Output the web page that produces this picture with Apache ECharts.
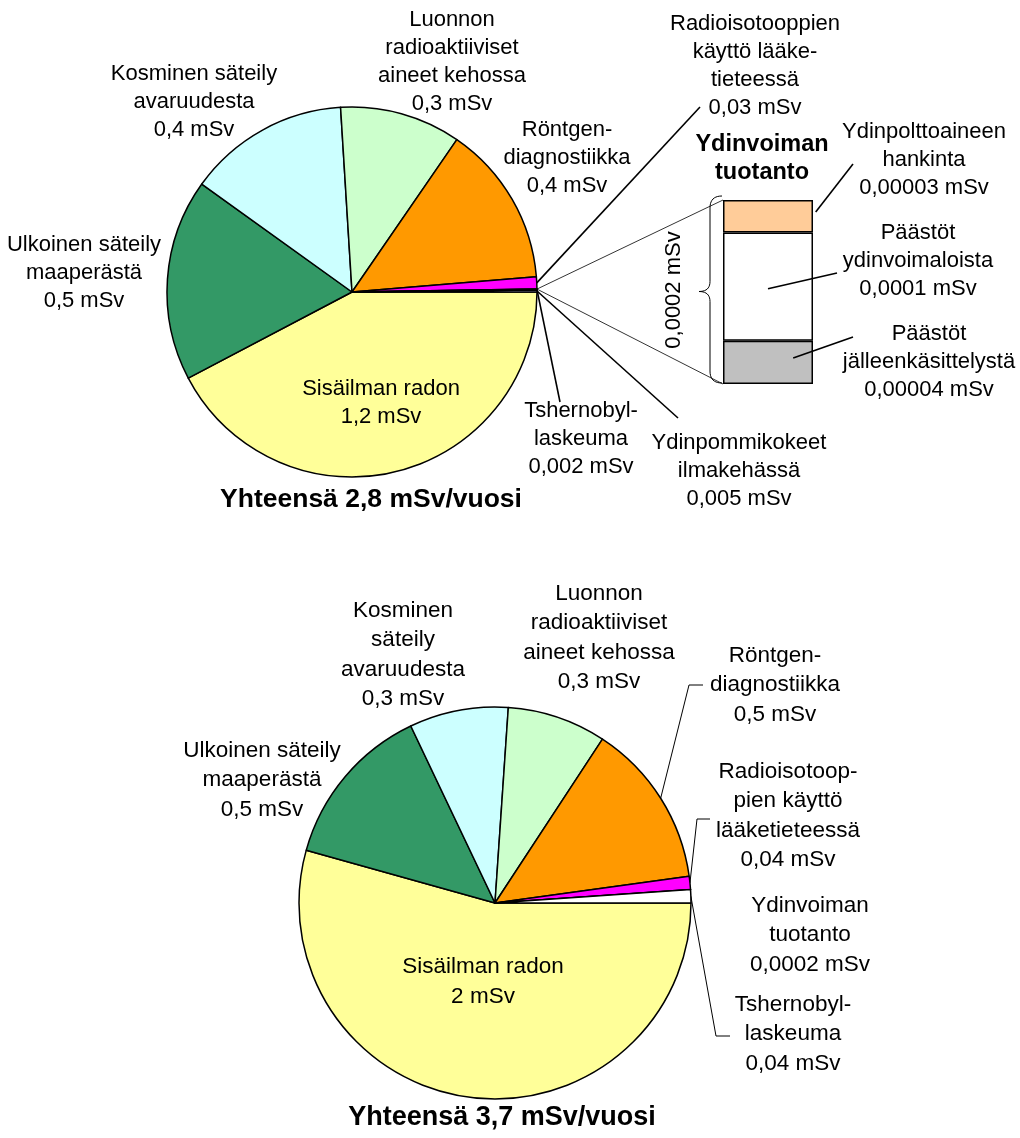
<!DOCTYPE html>
<html>
<head>
<meta charset="utf-8">
<script src="https://cdn.jsdelivr.net/npm/echarts@6/dist/echarts.min.js"></script>
<style>
  html, body { margin: 0; padding: 0; background: #ffffff; }
  #chart { width: 1020px; height: 1138px; }
</style>
</head>
<body>
<div id="chart"></div>
<script>
// Säteilyannoksen lähteet (mSv / vuosi), vanhempi arvio
const topNames = [
  'Sisäilman radon',
  'Ulkoinen säteily\nmaaperästä',
  'Kosminen säteily\navaruudesta',
  'Luonnon\nradioaktiiviset\naineet kehossa',
  'Röntgen-\ndiagnostiikka',
  'Radioisotooppien\nkäyttö lääke-\ntieteessä',
  'Ydinvoiman\ntuotanto',
  'Tshernobyl-\nlaskeuma',
  'Ydinpommikokeet\nilmakehässä'
];
const topValues = [1.2, 0.5, 0.4, 0.3, 0.4, 0.03, 0.0002, 0.002, 0.005];

// Säteilyannoksen lähteet (mSv / vuosi), uudempi arvio
const bottomNames = [
  'Sisäilman radon',
  'Ulkoinen säteily\nmaaperästä',
  'Kosminen\nsäteily\navaruudesta',
  'Luonnon\nradioaktiiviset\naineet kehossa',
  'Röntgen-\ndiagnostiikka',
  'Radioisotoop-\npien käyttö\nlääketieteessä',
  'Ydinvoiman\ntuotanto',
  'Tshernobyl-\nlaskeuma'
];
const bottomValues = [2, 0.5, 0.3, 0.3, 0.5, 0.04, 0.0002, 0.04];

// Ydinvoiman tuotannon osuus eriteltynä (alhaalta ylös)
const fuelNames = ['Päästöt\njälleenkäsittelystä', 'Päästöt\nydinvoimaloista', 'Ydinpolttoaineen\nhankinta'];
const fuelValues = [0.00004, 0.0001, 0.00003];
const fuelCategory = ['Ydinvoima'];

const NUCLEAR = 6; // Ydinvoiman tuotanto -sektorin indeksi

const sliceColors = ['#FFFF99', '#339966', '#CCFFFF', '#CCFFCC', '#FF9900', '#FF00FF', '#FFFFFF', '#FFFFFF', '#CCCCFF'];
const fuelColors = ['#C0C0C0', '#FFFFFF', '#FFCC99'];

const FONT = "'Liberation Sans', Arial, sans-serif";
const fmt = v => String(v).replace('.', ',');
const sum = arr => arr.reduce((a, b) => a + b, 0);

// Tekstien paikat ja ohjainviivojen päätepisteet
const topLayout = [
  { x: 381, y: 403 },
  { x: 84, y: 273 },
  { x: 194, y: 102 },
  { x: 452, y: 62 },
  { x: 567, y: 158 },
  { x: 755, y: 66, line: [[700, 107]] },
  { x: 762, y: 159 },
  { x: 581, y: 439, line: [[560, 402]] },
  { x: 739, y: 471, line: [[678, 418]] }
];
const bottomLayout = [
  { x: 483, y: 982 },
  { x: 262, y: 780 },
  { x: 403, y: 655 },
  { x: 599, y: 638 },
  { x: 775, y: 685, line: [[689, 685], [703, 685]] },
  { x: 788, y: 816, line: [[697, 819], [710, 819]] },
  { x: 810, y: 935 },
  { x: 793, y: 1034, line: [[716, 1036], [730, 1036]] }
];
// from: viivan alkukohta segmentin sisällä (osuus leveydestä, osuus korkeudesta)
const fuelLayout = [
  { x: 929, y: 362, from: [0.78, 0.4], to: [853, 337] },
  { x: 918, y: 261, from: [0.5, 0.52], to: [837, 273] },
  { x: 924, y: 160, from: [1.03, 0.37], to: [853, 164] }
];
const BAR = { left: 723, top: 200, width: 90, height: 184 };

function pieSeries(names, values, layout, center, radius, fontSize, lineHeight, lineWidth, extraLine) {
  return {
    type: 'pie',
    center: center,
    radius: radius,
    startAngle: 0,
    clockwise: true,
    avoidLabelOverlap: false,
    animation: false,
    silent: true,
    itemStyle: { borderColor: '#000', borderWidth: 1.5 },
    label: {
      show: true,
      position: 'outside',
      color: '#000',
      fontFamily: FONT,
      fontSize: fontSize,
      lineHeight: lineHeight,
      align: 'center',
      formatter: p => p.name + '\n' + fmt(p.value) + ' mSv'
    },
    labelLine: { show: false, lineStyle: { color: '#000', width: lineWidth } },
    labelLayout: p => {
      const cfg = layout[p.dataIndex];
      const out = { x: cfg.x, y: cfg.y, align: 'center', verticalAlign: 'middle' };
      const pts = p.labelLinePoints;
      if (pts && pts.length) {
        const start = pts[0];
        if (cfg.line) out.labelLinePoints = [start].concat(cfg.line);
        else if (extraLine && extraLine[p.dataIndex]) out.labelLinePoints = extraLine[p.dataIndex](start);
      }
      return out;
    },
    data: values.map((v, i) => ({
      name: names[i],
      value: v,
      itemStyle: { color: sliceColors[i] },
      labelLine: { show: !!layout[i].line }
    }))
  };
}

const topSeries = pieSeries(topNames, topValues, topLayout, [352, 292], 185, 22, 28, 1.6, {
  // ohuet apuviivat sektorista pylvään kulmiin
  [NUCLEAR]: start => [[BAR.left, BAR.top], start, [BAR.left, BAR.top + BAR.height]]
});
topSeries.data[NUCLEAR].label = { formatter: '{b}', fontWeight: 'bold', fontSize: 23.5 };
topSeries.data[NUCLEAR].labelLine = { show: true, lineStyle: { width: 0.8 } };

const bottomSeries = pieSeries(bottomNames, bottomValues, bottomLayout, [495, 903], 196, 22.5, 29.5, 1, null);

const fuelSeries = fuelNames.map((n, i) => ({
  type: 'bar',
  name: n,
  stack: 'fuel',
  data: [fuelValues[i]],
  barWidth: '100%',
  animation: false,
  silent: true,
  itemStyle: { color: fuelColors[i], borderColor: '#000', borderWidth: 1.5 },
  label: {
    show: true,
    position: 'inside',
    color: '#000',
    fontFamily: FONT,
    fontSize: 22,
    lineHeight: 28,
    formatter: p => p.seriesName + '\n' + fmt(p.value) + ' mSv'
  },
  labelLayout: () => ({ x: fuelLayout[i].x, y: fuelLayout[i].y, align: 'center', verticalAlign: 'middle' })
}));

const topTotal = sum(topValues);
const bottomTotal = sum(bottomValues);

// aaltosulje pylvään vasemmalla puolella: neljä kvadraattista kaarta ja kaksi suoraa
function quad(p0, c, p1, n) {
  const pts = [];
  for (let k = 0; k <= n; k++) {
    const t = k / n, u = 1 - t;
    pts.push([u * u * p0[0] + 2 * u * t * c[0] + t * t * p1[0], u * u * p0[1] + 2 * u * t * c[1] + t * t * p1[1]]);
  }
  return pts;
}
const bx = BAR.left - 1, by0 = BAR.top - 4, by1 = BAR.top + BAR.height - 1;
const bym = (by0 + by1) / 2 + 2;
const stem = bx - 12, tip = bx - 23;
const bracePoints = [].concat(
  quad([bx, by0], [stem, by0], [stem, by0 + 12], 10),
  quad([stem, bym - 10], [stem, bym], [tip, bym], 10),
  quad([tip, bym], [stem, bym], [stem, bym + 10], 10),
  quad([stem, by1 - 12], [stem, by1], [bx, by1], 10)
);

const baseGraphic = [
  {
    id: 'brace',
    type: 'polyline',
    shape: { points: bracePoints },
    style: { fill: null, stroke: '#000', lineWidth: 1 },
    silent: true
  },
  {
    id: 'nuclearTotal',
    type: 'text',
    x: 674, y: 290,
    rotation: Math.PI / 2,
    style: { text: fmt(topValues[NUCLEAR]) + ' mSv', font: `22px ${FONT}`, fill: '#000', align: 'center', verticalAlign: 'middle' },
    silent: true
  },
  {
    id: 'topTotal',
    type: 'text',
    x: 371, y: 500,
    style: { text: 'Yhteensä ' + fmt(topTotal.toFixed(1)) + ' mSv/vuosi', font: `bold 26.5px ${FONT}`, fill: '#000', align: 'center', verticalAlign: 'middle' },
    silent: true
  },
  {
    id: 'bottomTotal',
    type: 'text',
    x: 502, y: 1118,
    style: { text: 'Yhteensä ' + fmt(bottomTotal.toFixed(1)) + ' mSv/vuosi', font: `bold 27px ${FONT}`, fill: '#000', align: 'center', verticalAlign: 'middle' },
    silent: true
  }
];

const chart = echarts.init(document.getElementById('chart'), null, { renderer: 'canvas' });
chart.setOption({
  backgroundColor: '#ffffff',
  animation: false,
  grid: { left: BAR.left, top: BAR.top, width: BAR.width, height: BAR.height },
  xAxis: { type: 'category', data: fuelCategory, show: false },
  yAxis: { type: 'value', min: 0, max: sum(fuelValues), show: false },
  series: [topSeries, bottomSeries].concat(fuelSeries),
  graphic: baseGraphic
});

// pylvässegmenttien ohjainviivat akselin asteikon kautta, piirretään pylväiden päälle
let cum = 0;
const fuelLines = fuelValues.map((v, i) => {
  const lo = chart.convertToPixel({ gridIndex: 0 }, [fuelCategory[0], cum]);
  const hi = chart.convertToPixel({ gridIndex: 0 }, [fuelCategory[0], cum + v]);
  cum += v;
  const cfg = fuelLayout[i];
  const sx = BAR.left + BAR.width * cfg.from[0];
  const sy = hi[1] + (lo[1] - hi[1]) * cfg.from[1];
  return {
    id: 'fuelLine' + i,
    type: 'line',
    z: 100,
    shape: { x1: sx, y1: sy, x2: cfg.to[0], y2: cfg.to[1] },
    style: { stroke: '#000', lineWidth: 1.6 },
    silent: true
  };
});
chart.setOption({ graphic: baseGraphic.concat(fuelLines) }, { replaceMerge: ['graphic'] });
</script>
</body>
</html>
